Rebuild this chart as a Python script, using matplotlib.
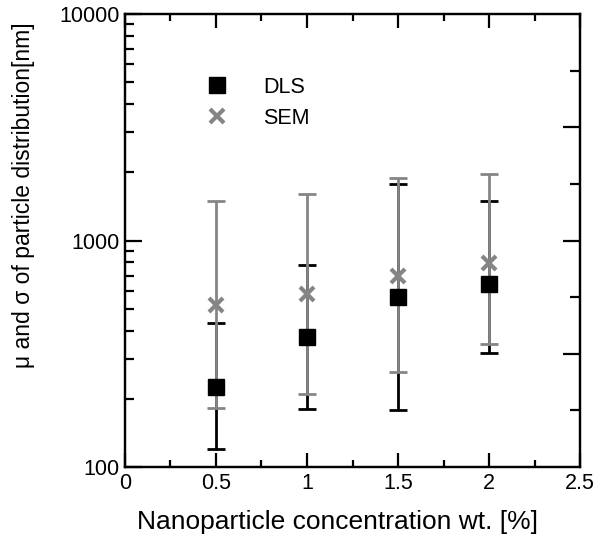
import numpy as np
import matplotlib.pyplot as plt
from matplotlib.ticker import FixedLocator, NullFormatter, MultipleLocator

plt.rcParams['font.family'] = ['Liberation Sans', 'DejaVu Sans']

# dados
conc = [0.5, 1.0, 1.5, 2.0]
dls_media = [226, 376, 565, 643]
dls_sup = [431, 782, 1770, 1490]
dls_inf = [120, 181, 179, 320]
sem_media = [519, 578, 699, 793]
sem_sup = [1490, 1610, 1882, 1966]
sem_inf = [182, 211, 262, 349]

cinza = '#858585'

fig = plt.figure(figsize=(6, 5.4), dpi=100)
ax = fig.add_axes([0.2083, 0.1352, 0.7584, 0.8388])

dls_err = [np.array(dls_media) - np.array(dls_inf), np.array(dls_sup) - np.array(dls_media)]
sem_err = [np.array(sem_media) - np.array(sem_inf), np.array(sem_sup) - np.array(sem_media)]

ax.errorbar(conc, dls_media, yerr=dls_err, fmt='none', ecolor='black',
            elinewidth=2.0, capsize=6.5, capthick=2.0, zorder=2)
ax.errorbar(conc, sem_media, yerr=sem_err, fmt='none', ecolor=cinza,
            elinewidth=2.0, capsize=6.5, capthick=2.0, zorder=3)
ax.plot(conc, dls_media, 's', color='black', markersize=11.5, linestyle='none',
        label='DLS', zorder=4)
ax.plot(conc, sem_media, 'x', color=cinza, markersize=10, markeredgewidth=3,
        linestyle='none', label='SEM', zorder=5)

ax.set_yscale('log')
ax.set_xlim(0, 2.5)
ax.set_ylim(100, 10000)
ax.set_yticks([100, 1000, 10000])
ax.set_yticklabels(['100', '1000', '10000'])
ax.yaxis.set_minor_formatter(NullFormatter())
ax.xaxis.set_minor_locator(MultipleLocator(0.25))
ax.set_xticks([0, 0.5, 1, 1.5, 2, 2.5])
ax.set_xticklabels(['0', '0.5', '1', '1.5', '2', '2.5'])

ax.tick_params(axis='x', which='major', direction='in', length=10, width=1.6,
               top=True, labelsize=15.5, pad=4)
ax.tick_params(axis='x', which='minor', direction='in', length=5, width=1.6, top=True)
ax.tick_params(axis='y', which='major', direction='in', length=12, width=1.6,
               right=False, labelsize=15.5, pad=4)
ax.tick_params(axis='y', which='minor', direction='in', length=6.5, width=1.6, right=False)

# eixo direito com marcas a cada quarto de década
ax2 = ax.twinx()
ax2.set_yscale('log')
ax2.set_ylim(100, 10000)
ax2.yaxis.set_major_locator(FixedLocator([10 ** 2.5, 10 ** 3, 10 ** 3.5]))
ax2.yaxis.set_minor_locator(FixedLocator([10 ** 2.25, 10 ** 2.75, 10 ** 3.25, 10 ** 3.75]))
ax2.yaxis.set_major_formatter(NullFormatter())
ax2.yaxis.set_minor_formatter(NullFormatter())
ax2.tick_params(which='major', direction='in', length=12, width=1.6)
ax2.tick_params(which='minor', direction='in', length=7, width=1.6)

for a in (ax, ax2):
    for s in a.spines.values():
        s.set_linewidth(1.6)

ax.set_xlabel('Nanoparticle concentration wt. [%]', fontsize=19)
ax.xaxis.set_label_coords(0.466, -0.095)
ax.set_ylabel('\u03bc and \u03c3 of particle distribution[nm]', fontsize=16.5)
ax.yaxis.set_label_coords(-0.198, 0.60)

ax.legend(loc='upper left', bbox_to_anchor=(0.155, 0.885), frameon=False,
          borderpad=0, handlelength=1.0, handletextpad=1.65, labelspacing=0.45,
          fontsize=15.5)

fig.savefig('out.png', dpi=100)
